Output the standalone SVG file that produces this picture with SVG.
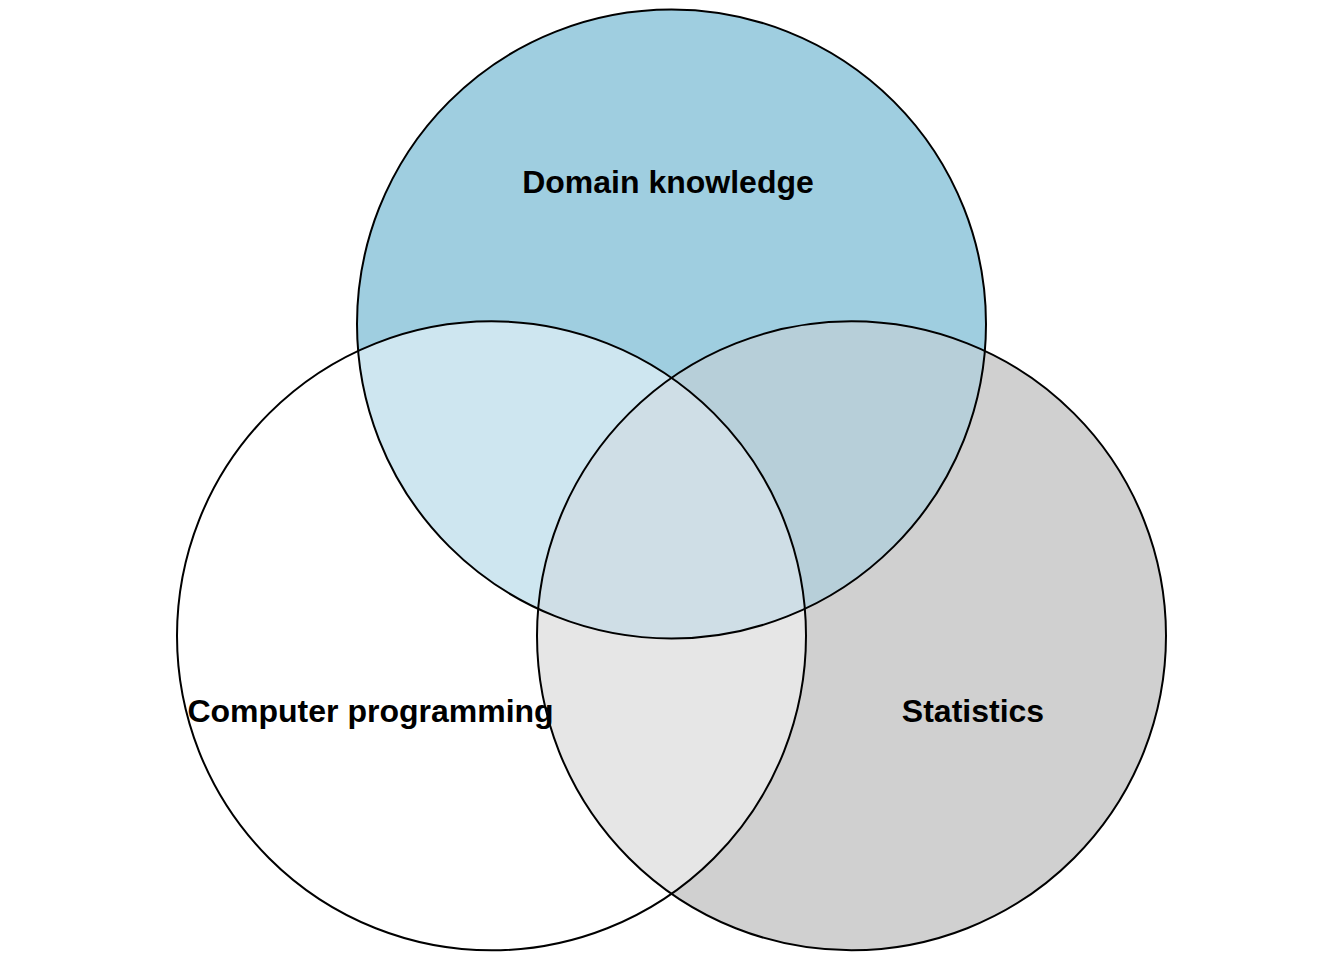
<svg xmlns="http://www.w3.org/2000/svg" width="1344" height="960" viewBox="0 0 1344 960">
<style>
.outline{fill:none;stroke:#000;stroke-width:2}
.lbl{font-family:"Liberation Sans",Arial,sans-serif;font-weight:bold;font-size:32px;fill:#000;text-anchor:middle}
</style>
<defs>
<clipPath id="clipT"><circle cx="671.5" cy="324" r="314.5"/></clipPath>
<clipPath id="clipL"><circle cx="491.5" cy="635.8" r="314.5"/></clipPath>
<clipPath id="clipR"><circle cx="851.5" cy="635.8" r="314.5"/></clipPath>
</defs>
<rect width="1344" height="960" fill="#fff"/>
<g id="fills">
<circle cx="671.5" cy="324" r="314.5" fill="#9FCEE0"/>
<circle cx="851.5" cy="635.8" r="314.5" fill="#D0D0D0"/>
<circle cx="491.5" cy="635.8" r="314.5" fill="#FFFFFF"/>
<circle cx="491.5" cy="635.8" r="314.5" fill="#CEE6F0" clip-path="url(#clipT)"/>
<circle cx="851.5" cy="635.8" r="314.5" fill="#B7CFD9" clip-path="url(#clipT)"/>
<circle cx="851.5" cy="635.8" r="314.5" fill="#E6E6E6" clip-path="url(#clipL)"/>
<g clip-path="url(#clipT)"><circle cx="851.5" cy="635.8" r="314.5" fill="#CFDEE6" clip-path="url(#clipL)"/></g>
</g>
<g id="domain-knowledge">
<circle class="outline" cx="671.5" cy="324" r="314.5"/>
</g>
<g id="computer-programming">
<circle class="outline" cx="491.5" cy="635.8" r="314.5"/>
</g>
<g id="statistics">
<circle class="outline" cx="851.5" cy="635.8" r="314.5"/>
</g>
<g id="labels">
<text class="lbl" x="668" y="193">Domain knowledge</text>
<text class="lbl" x="370.5" y="722">Computer programming</text>
<text class="lbl" x="973" y="722">Statistics</text>
</g>
</svg>
